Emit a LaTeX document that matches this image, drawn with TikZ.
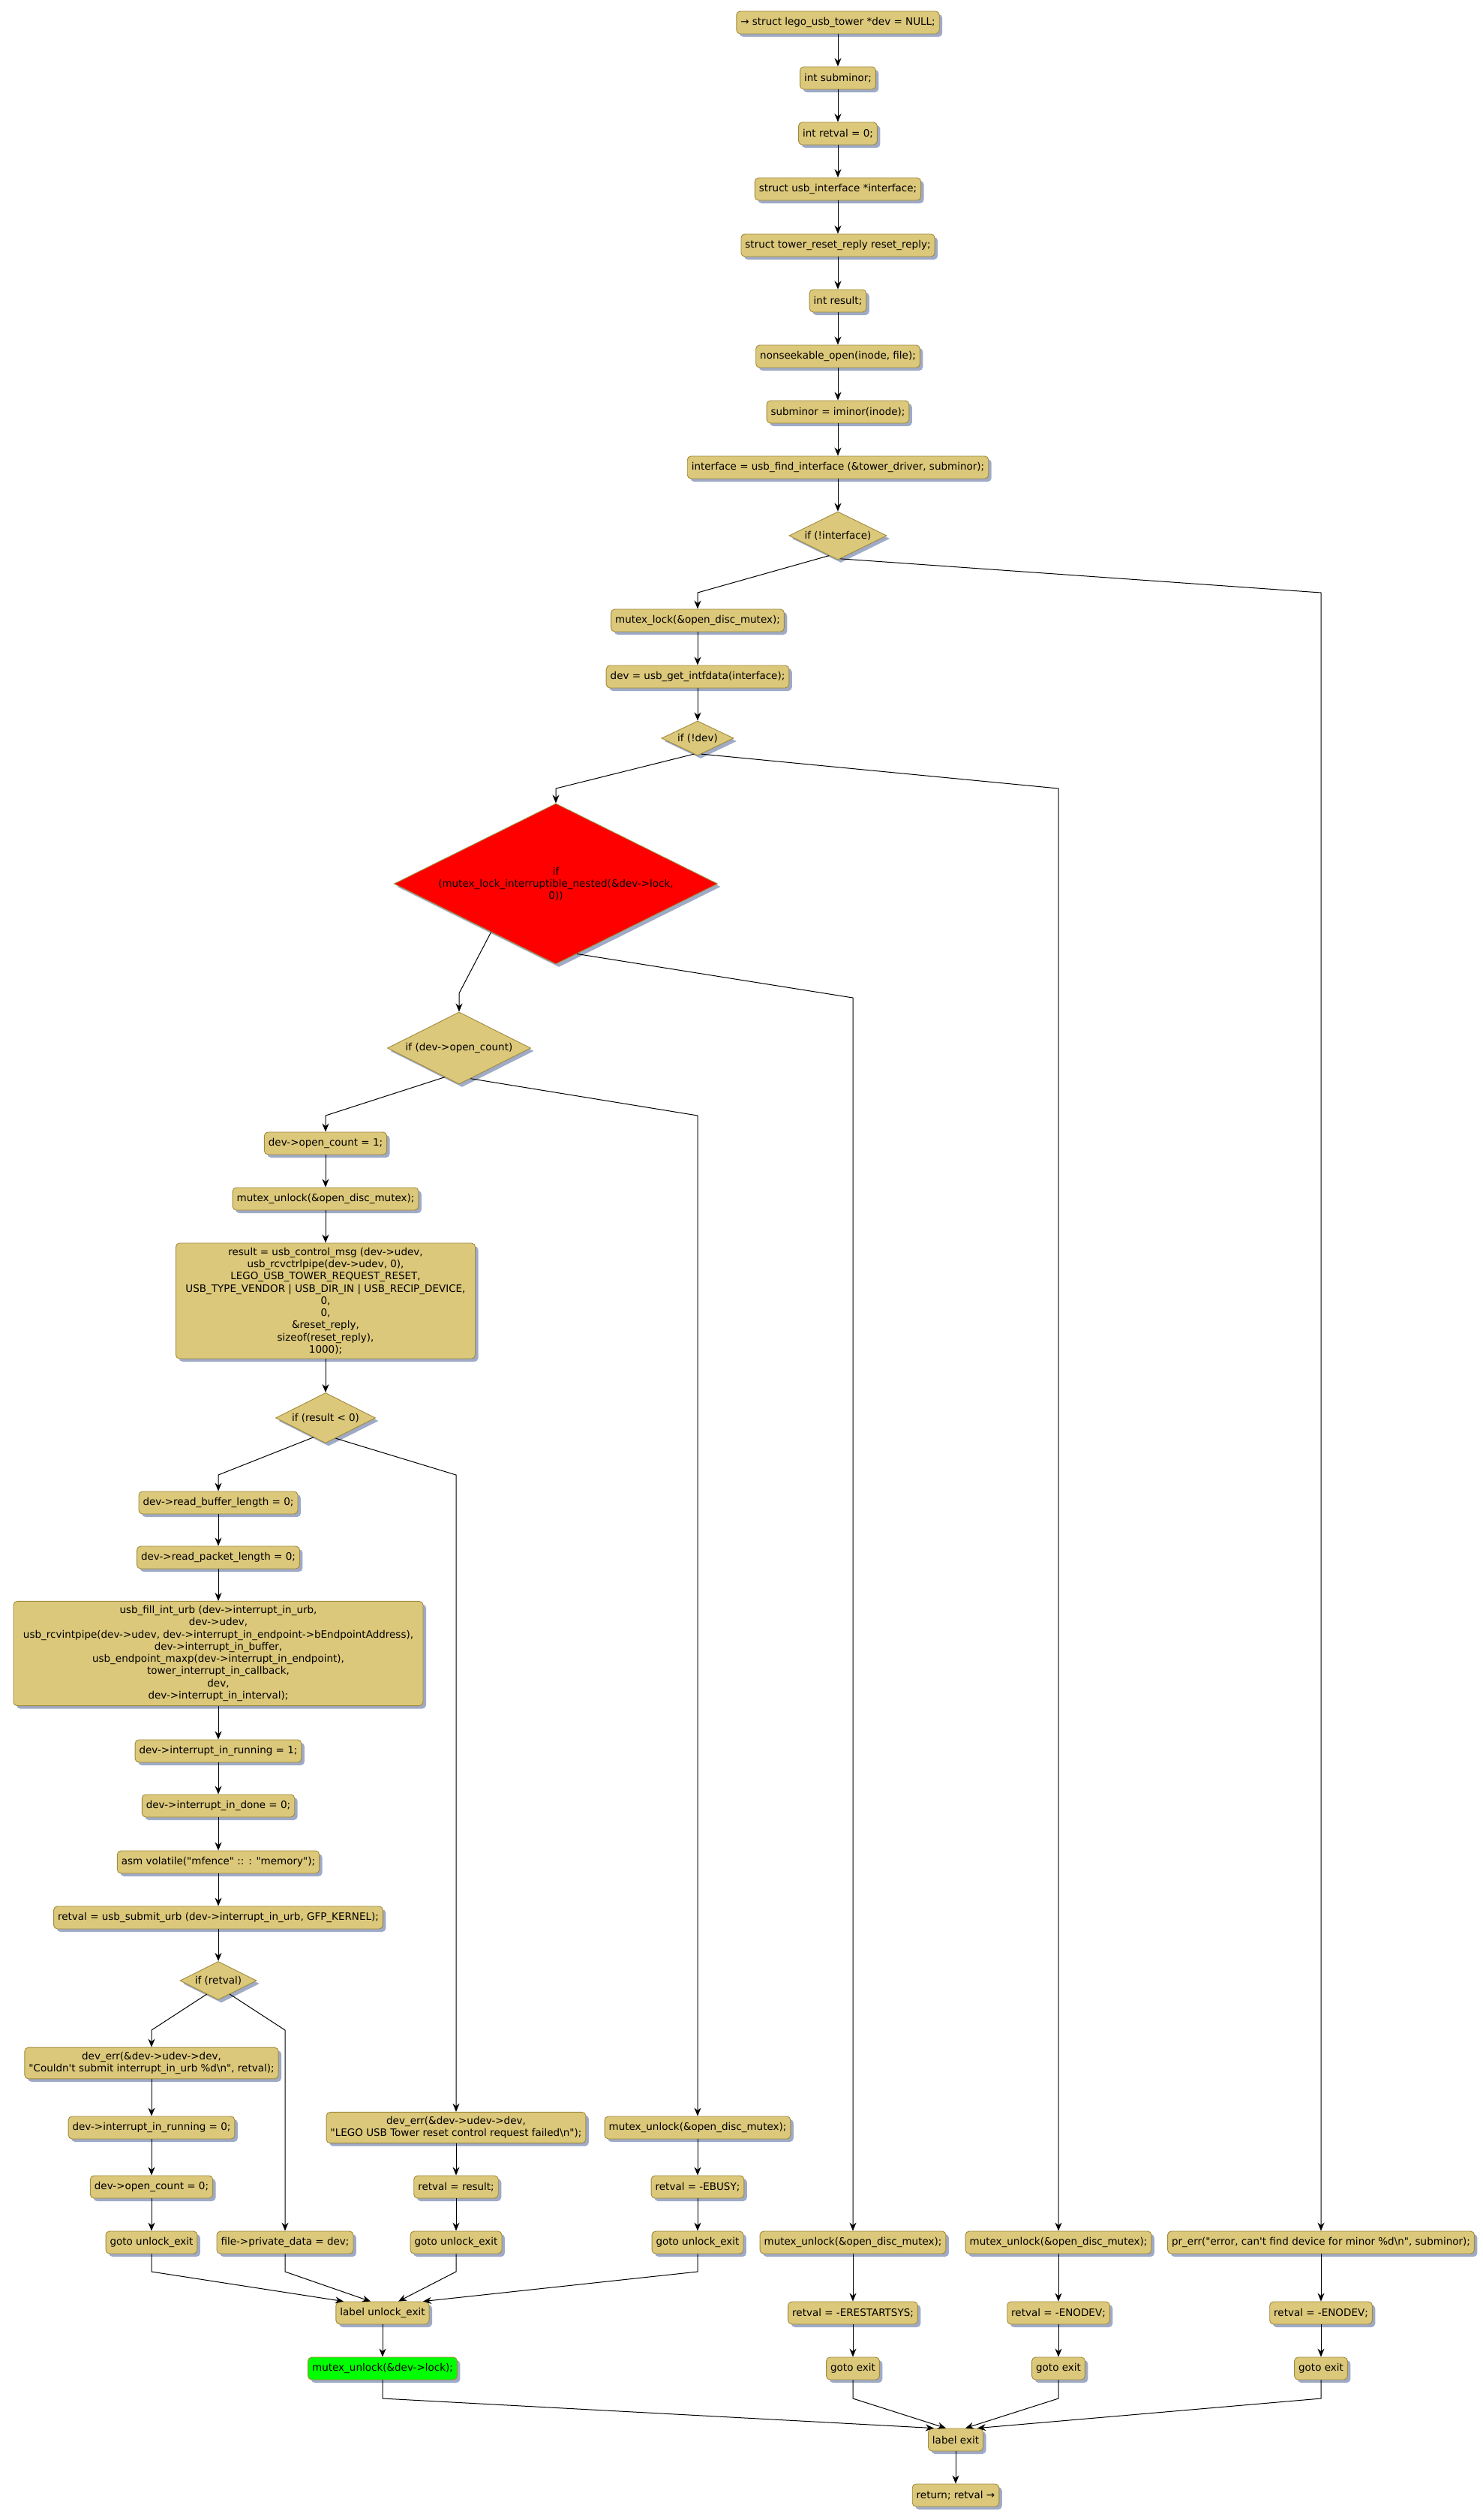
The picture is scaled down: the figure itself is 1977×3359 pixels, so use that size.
\documentclass[tikz,border=0pt]{standalone}
\usepackage{fontspec}
\newfontfamily\dv{DejaVu Sans}
\usetikzlibrary{shapes.geometric,shadows,arrows.meta,calc}
\definecolor{boxfill}{RGB}{220,200,122}
\definecolor{boxline}{RGB}{160,138,60}
\definecolor{shadowcol}{RGB}{158,170,198}
\definecolor{redfill}{RGB}{255,0,0}
\definecolor{greenfill}{RGB}{0,255,0}
\begin{document}
\begin{tikzpicture}[x=1pt,y=-1pt,
  every node/.style={font=\dv\fontsize{13.5pt}{16.25pt}\selectfont},
  box/.style={draw=boxline, fill=boxfill, line width=0.9pt, rounded corners=5pt,
    minimum height=30pt, inner xsep=5.5pt, inner ysep=6pt, align=center,
    drop shadow={shadow xshift=4pt, shadow yshift=-4pt, fill=shadowcol, opacity=1}},
  bigbox/.style={box, inner xsep=13pt},
  dia/.style={diamond, draw=boxline, fill=boxfill, line width=0.9pt, inner sep=0pt,
    drop shadow={shadow xshift=4pt, shadow yshift=-4pt, fill=shadowcol, opacity=1}},
  dtext/.style={inner sep=0pt, align=center},
  arr/.style={draw, line width=1pt, -{Stealth[length=11pt,width=9pt,inset=3.5pt]}}
]
\fill[white] (0,0) rectangle (1977,3359);
\useasboundingbox (0,0) rectangle (1977,3359);

% main column
\node[box] (n1) at (1117,30) {→ struct lego\_usb\_tower *dev = NULL;};
\node[box] (n2) at (1117,104) {int subminor;};
\node[box] (n3) at (1117,178) {int retval = 0;};
\node[box] (n4) at (1117,252) {struct usb\_interface *interface;};
\node[box] (n5) at (1117,327) {struct tower\_reset\_reply reset\_reply;};
\node[box] (n6) at (1117,401) {int result;};
\node[box] (n7) at (1117,475) {nonseekable\_open(inode, file);};
\node[box] (n8) at (1117,549) {subminor = iminor(inode);};
\node[box] (n9) at (1117,623) {interface = usb\_find\_interface (\&tower\_driver, subminor);};
\node[dia, minimum width=130pt, minimum height=64pt] (d1) at (1117,714) {};
\node[dtext] (t1) at (d1) {if (!interface)};

\node[box] (n10) at (930,827) {mutex\_lock(\&open\_disc\_mutex);};
\node[box] (n11) at (930,902) {dev = usb\_get\_intfdata(interface);};
\node[dia, minimum width=96pt, minimum height=46pt] (d2) at (930,984) {};
\node[dtext] (t2) at (d2) {if (!dev)};

\node[dia, fill=redfill, minimum width=431pt, minimum height=214pt] (d3) at (741,1178) {};
\node[dtext] (t3) at (d3) {if\\(mutex\_lock\_interruptible\_nested(\&dev->lock,\\0))};

\node[dia, minimum width=191pt, minimum height=96pt] (d4) at (612,1397) {};
\node[dtext] (t4) at (d4) {if (dev->open\_count)};

\node[box] (n12) at (434,1524) {dev->open\_count = 1;};
\node[box] (n13) at (434,1598) {mutex\_unlock(\&open\_disc\_mutex);};
\node[bigbox] (n14) at (434,1734) {result = usb\_control\_msg (dev->udev,\\
usb\_rcvctrlpipe(dev->udev, 0),\\
LEGO\_USB\_TOWER\_REQUEST\_RESET,\\
USB\_TYPE\_VENDOR | USB\_DIR\_IN | USB\_RECIP\_DEVICE,\\
0,\\
0,\\
\&reset\_reply,\\
sizeof(reset\_reply),\\
1000);};
\node[dia, minimum width=133pt, minimum height=67pt] (d5) at (434,1890) {};
\node[dtext] (t5) at (d5) {if (result < 0)};

\node[box] (n15) at (291,2003) {dev->read\_buffer\_length = 0;};
\node[box] (n16) at (291,2076) {dev->read\_packet\_length = 0;};
\node[bigbox] (n17) at (291,2204) {usb\_fill\_int\_urb (dev->interrupt\_in\_urb,\\
dev->udev,\\
usb\_rcvintpipe(dev->udev, dev->interrupt\_in\_endpoint->bEndpointAddress),\\
dev->interrupt\_in\_buffer,\\
usb\_endpoint\_maxp(dev->interrupt\_in\_endpoint),\\
tower\_interrupt\_in\_callback,\\
dev,\\
dev->interrupt\_in\_interval);};
\node[box] (n18) at (291,2334) {dev->interrupt\_in\_running = 1;};
\node[box] (n19) at (291,2407) {dev->interrupt\_in\_done = 0;};
\node[box] (n20) at (291,2482) {asm volatile("mfence" :: : "memory");};
\node[box] (n21) at (291,2556) {retval = usb\_submit\_urb (dev->interrupt\_in\_urb, GFP\_KERNEL);};
\node[dia, minimum width=102pt, minimum height=51pt] (d6) at (291,2640) {};
\node[dtext] (t6) at (d6) {if (retval)};

\node[box] (n22) at (202,2750) {dev\_err(\&dev->udev->dev,\\"Couldn't submit interrupt\_in\_urb \%d\textbackslash n", retval);};
\node[box] (n23) at (202,2836) {dev->interrupt\_in\_running = 0;};
\node[box] (n24) at (202,2915) {dev->open\_count = 0;};
\node[box] (n25) at (202,2989) {goto unlock\_exit};
\node[box] (n26) at (380,2989) {file->private\_data = dev;};

\node[box] (n27) at (608,2836) {dev\_err(\&dev->udev->dev,\\"LEGO USB Tower reset control request failed\textbackslash n");};
\node[box] (n28) at (608,2915) {retval = result;};
\node[box] (n29) at (608,2989) {goto unlock\_exit};

\node[box] (n30) at (930,2836) {mutex\_unlock(\&open\_disc\_mutex);};
\node[box] (n31) at (930,2915) {retval = -EBUSY;};
\node[box] (n32) at (930,2989) {goto unlock\_exit};

\node[box] (n33) at (1137,2989) {mutex\_unlock(\&open\_disc\_mutex);};
\node[box] (n34) at (1137,3083) {retval = -ERESTARTSYS;};
\node[box] (n35) at (1137,3157) {goto exit};

\node[box] (n36) at (1411,2989) {mutex\_unlock(\&open\_disc\_mutex);};
\node[box] (n37) at (1411,3083) {retval = -ENODEV;};
\node[box] (n38) at (1411,3157) {goto exit};

\node[box] (n39) at (1761,2989) {pr\_err("error, can't find device for minor \%d\textbackslash n", subminor);};
\node[box] (n40) at (1761,3083) {retval = -ENODEV;};
\node[box] (n41) at (1761,3157) {goto exit};

\node[box] (n42) at (510,3083) {label unlock\_exit};
\node[box, fill=greenfill] (n43) at (510,3157) {mutex\_unlock(\&dev->lock);};
\node[box] (n44) at (1274,3252) {label exit};
\node[box] (n45) at (1274,3326) {return; retval →};

% bend coordinates
\coordinate (b1L) at (930,790);  \coordinate (b1R) at (1761,790);
\coordinate (b2L) at (741,1051); \coordinate (b2R) at (1411,1051);
\coordinate (b3L) at (612,1324); \coordinate (b3R) at (1137,1330);
\coordinate (b4L) at (434,1487); \coordinate (b4R) at (930,1487);
\coordinate (b5L) at (291,1966); \coordinate (b5R) at (608,1966);
\coordinate (b6L) at (202,2706); \coordinate (b6R) at (380,2706);
\coordinate (j1) at (202,3028); \coordinate (j2) at (380,3028);
\coordinate (j3) at (608,3028); \coordinate (j4) at (930,3028);
\coordinate (k1) at (510,3197); \coordinate (k2) at (1137,3197);
\coordinate (k3) at (1411,3197); \coordinate (k4) at (1761,3197);

% main chain
\draw[arr] (n1) -- (n2);
\draw[arr] (n2) -- (n3);
\draw[arr] (n3) -- (n4);
\draw[arr] (n4) -- (n5);
\draw[arr] (n5) -- (n6);
\draw[arr] (n6) -- (n7);
\draw[arr] (n7) -- (n8);
\draw[arr] (n8) -- (n9);
\draw[arr] (n9) -- (d1);

% if (!interface)
\draw[arr] ($(d1.south)!0.18!(d1.west)$) -- (b1L) -- (n10);
\draw[arr] ($(d1.south)!0.05!(d1.east)$) -- (b1R) -- (n39);
\draw[arr] (n10) -- (n11);
\draw[arr] (n11) -- (d2);

% if (!dev)
\draw[arr] ($(d2.south)!0.1!(d2.west)$) -- (b2L) -- (d3);
\draw[arr] ($(d2.south)!0.1!(d2.east)$) -- (b2R) -- (n36);

% red diamond
\draw[arr] ($(d3.south)!0.4!(d3.west)$) -- (b3L) -- (d4);
\draw[arr] ($(d3.south)!0.13!(d3.east)$) -- (b3R) -- (n33);

% if (dev->open_count)
\draw[arr] ($(d4.south)!0.2!(d4.west)$) -- (b4L) -- (n12);
\draw[arr] ($(d4.south)!0.16!(d4.east)$) -- (b4R) -- (n30);
\draw[arr] (n12) -- (n13);
\draw[arr] (n13) -- (n14);
\draw[arr] (n14) -- (d5);

% if (result < 0)
\draw[arr] ($(d5.south)!0.24!(d5.west)$) -- (b5L) -- (n15);
\draw[arr] ($(d5.south)!0.2!(d5.east)$) -- (b5R) -- (n27);
\draw[arr] (n15) -- (n16);
\draw[arr] (n16) -- (n17);
\draw[arr] (n17) -- (n18);
\draw[arr] (n18) -- (n19);
\draw[arr] (n19) -- (n20);
\draw[arr] (n20) -- (n21);
\draw[arr] (n21) -- (d6);

% if (retval)
\draw[arr] ($(d6.south)!0.3!(d6.west)$) -- (b6L) -- (n22);
\draw[arr] ($(d6.south)!0.3!(d6.east)$) -- (b6R) -- (n26);
\draw[arr] (n22) -- (n23);
\draw[arr] (n23) -- (n24);
\draw[arr] (n24) -- (n25);

\draw[arr] (n27) -- (n28);
\draw[arr] (n28) -- (n29);
\draw[arr] (n30) -- (n31);
\draw[arr] (n31) -- (n32);
\draw[arr] (n33) -- (n34);
\draw[arr] (n34) -- (n35);
\draw[arr] (n36) -- (n37);
\draw[arr] (n37) -- (n38);
\draw[arr] (n39) -- (n40);
\draw[arr] (n40) -- (n41);

% joins into label unlock_exit
\draw[arr] (n25) -- (j1) -- ([xshift=-52pt]n42.north);
\draw[arr] (n26) -- (j2) -- ([xshift=-16pt]n42.north);
\draw[arr] (n29) -- (j3) -- ([xshift=21pt]n42.north);
\draw[arr] (n32) -- (j4) -- ([xshift=54pt]n42.north);
\draw[arr] (n42) -- (n43);

% joins into label exit
\draw[arr] (n43) -- (k1) -- ([xshift=-29pt]n44.north);
\draw[arr] (n35) -- (k2) -- ([xshift=-13pt]n44.north);
\draw[arr] (n38) -- (k3) -- ([xshift=13pt]n44.north);
\draw[arr] (n41) -- (k4) -- ([xshift=29pt]n44.north);
\draw[arr] (n44) -- (n45);
\end{tikzpicture}
\end{document}
